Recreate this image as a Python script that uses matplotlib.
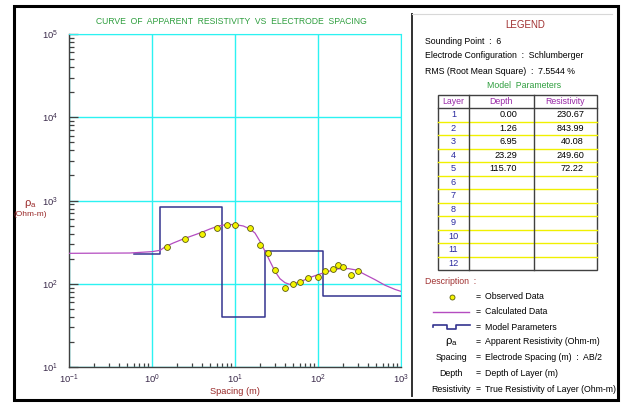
import math
import matplotlib
matplotlib.use("Agg")
import matplotlib.pyplot as plt
from matplotlib.ticker import LogLocator, FuncFormatter, NullFormatter

plt.rcParams['font.family'] = ['Liberation Sans', 'DejaVu Sans']
plt.rcParams['mathtext.fontset'] = 'custom'
plt.rcParams['mathtext.rm'] = 'Liberation Sans'
plt.rcParams['mathtext.it'] = 'Liberation Sans'

# observed sounding data (AB/2 in m, apparent resistivity in ohm-m)
obs_spacing = [1.5, 2.5, 4, 6, 8, 10, 15, 20, 25, 30, 40, 50, 60, 75, 100,
               120, 150, 175, 200, 250, 300]
obs_rho = [280, 348, 400, 468, 510, 510, 468, 295, 232, 148, 88, 100, 106,
           116, 121, 141, 151, 170, 160, 127, 144]

# calculated (model response) curve
calc_spacing = [0.1, 0.54, 1.0, 1.25, 1.46, 1.81, 2.38, 3.14, 3.96, 4.99,
                6.3, 7.94, 10, 12.6, 15.1, 17.4, 20, 23, 26.4, 30.3, 34.8,
                40, 46, 52.8, 63.5, 76.4, 101, 133, 176, 232, 292, 368, 486,
                641, 847, 1000]
calc_rho = [232, 234, 243, 252, 280, 309, 345, 381, 414, 455, 494, 514, 514,
            494, 455, 407, 323, 245, 186, 141, 115, 103, 98, 101, 107, 117,
            129, 141, 151, 152, 146, 129, 112, 96, 85.5, 81]

# layered model
layers = [1, 2, 3, 4, 5, 6, 7, 8, 9, 10, 11, 12]
depths = [0.00, 1.26, 6.95, 23.29, 115.70]
resistivities = [230.67, 843.99, 40.08, 249.60, 72.22]
model_start = 0.6
model_end = 1000

W, H = 622, 403
FS = 6.3
fig = plt.figure(figsize=(W / 100, H / 100), dpi=100)

# pixel-space overlay for frame and legend panel
ov = fig.add_axes([0, 0, 1, 1])
ov.set_xlim(0, W)
ov.set_ylim(H, 0)
ov.axis('off')

ov.add_patch(plt.Rectangle((14, 6), 604, 394, fill=False, lw=2.2,
                           edgecolor='black'))
ov.plot([412, 412], [14, 396], color='#303030', lw=1.4)
ov.plot([412, 612], [14, 14], color='#d8d8d8', lw=0.8)

# main chart
ax = fig.add_axes([69 / W, 36 / H, 332 / W, 333 / H])
ax.set_xscale('log')
ax.set_yscale('log')
ax.set_xlim(0.1, 1000)
ax.set_ylim(10, 1e5)

# model as a stepped line
step_x = [model_start]
step_y = [resistivities[0]]
for i in range(1, len(depths)):
    step_x += [depths[i], depths[i]]
    step_y += [resistivities[i - 1], resistivities[i]]
step_x.append(model_end)
step_y.append(resistivities[-1])
ax.plot(step_x, step_y, color='#34348f', lw=1.1, zorder=3)

ax.plot(calc_spacing, calc_rho, color='#b44cc0', lw=0.9, zorder=4)
ax.plot(obs_spacing, obs_rho, 'o', color='#f4f400', mec='#5a5a10',
        mew=0.6, ms=4.2, zorder=5)

ax.grid(True, which='major', color='#2cf2f2', lw=1.0)
ax.set_axisbelow(True)
for side in ['top', 'right']:
    ax.spines[side].set_color('#2cf2f2')
for side in ['left', 'bottom']:
    ax.spines[side].set_color('#404040')
    ax.spines[side].set_linewidth(1.0)

dec = FuncFormatter(lambda v, p: r'$\mathregular{10^{%d}}$' % round(math.log10(v)))
ax.xaxis.set_major_locator(LogLocator(base=10, numticks=10))
ax.yaxis.set_major_locator(LogLocator(base=10, numticks=10))
ax.xaxis.set_minor_locator(LogLocator(base=10, subs=range(2, 10), numticks=20))
ax.yaxis.set_minor_locator(LogLocator(base=10, subs=range(2, 10), numticks=20))
ax.xaxis.set_major_formatter(dec)
ax.yaxis.set_major_formatter(dec)
ax.xaxis.set_minor_formatter(NullFormatter())
ax.yaxis.set_minor_formatter(NullFormatter())
ax.tick_params(which='both', direction='in', color='#404040', width=0.9,
               labelsize=6.8, labelcolor='#3a2a4a')
ax.tick_params(axis='y', which='major', length=6.5, pad=8)
ax.tick_params(axis='y', which='minor', length=3.4)
ax.tick_params(axis='x', which='major', length=0, pad=4)
ax.tick_params(axis='x', which='minor', length=3.2)
ax.tick_params(top=False, right=False)

ax.set_xlabel('Spacing (m)', fontsize=FS + 0.4, color='#9a2a2a', labelpad=1)
ov.text(30, 204, r'$\mathregular{\rho_a}$', fontsize=8, color='#9a2a2a',
        ha='center', va='center')
ov.text(30, 215, '(Ohm-m)', fontsize=FS - 0.3, color='#9a2a2a', ha='center',
        va='center')
ov.text(231, 22, 'CURVE  OF  APPARENT  RESISTIVITY  VS  ELECTRODE  SPACING',
        fontsize=6.2, color='#2e9e3e', ha='center', va='center')

# legend panel
ov.text(525, 25, 'LEGEND', fontsize=7, color='#a03030', ha='center',
        va='center')
ov.text(425, 41, 'Sounding Point  :  6', fontsize=FS, va='center')
ov.text(425, 56, 'Electrode Configuration  :  Schlumberger', fontsize=FS,
        va='center')
ov.text(425, 71, 'RMS (Root Mean Square)  :  7.5544 %', fontsize=FS,
        va='center')
ov.text(524, 86, 'Model  Parameters', fontsize=FS, color='#2e9e3e',
        ha='center', va='center')

tl, c1, c2, tr = 438, 469, 533.5, 597
ttop, hbot = 94.5, 108
row_h = 13.5
tbot = hbot + row_h * len(layers)
for i in range(1, len(layers)):
    yy = hbot + i * row_h
    ov.plot([tl, tr], [yy, yy], color='#f0f000', lw=1.0)
ov.add_patch(plt.Rectangle((tl, ttop), tr - tl, tbot - ttop, fill=False,
                           edgecolor='#404040', lw=1.0))
ov.plot([tl, tr], [hbot, hbot], color='#404040', lw=1.0)
for xx in [c1, c2]:
    ov.plot([xx, xx], [ttop, tbot], color='#404040', lw=1.0)

hy = (ttop + hbot) / 2
ov.text((tl + c1) / 2, hy, 'Layer', fontsize=FS, color='#9a2aa8',
        ha='center', va='center')
ov.text((c1 + c2) / 2, hy, 'Depth', fontsize=FS, color='#9a2aa8',
        ha='center', va='center')
ov.text((c2 + tr) / 2, hy, 'Resistivity', fontsize=FS, color='#9a2aa8',
        ha='center', va='center')
for i, n in enumerate(layers):
    yy = hbot + (i + 0.5) * row_h
    ov.text((tl + c1) / 2, yy, str(n), fontsize=FS + 0.3, color='#2a2aa0',
            ha='center', va='center')
    if i < len(depths):
        ov.text(517, yy, '%.2f' % depths[i], fontsize=FS + 0.3, ha='right',
                va='center')
        ov.text(584, yy, '%.2f' % resistivities[i], fontsize=FS + 0.3,
                ha='right', va='center')

ov.text(425, 281, 'Description  :', fontsize=FS, color='#a03030',
        va='center')
desc_y = [296.5, 311.5, 327, 342, 357, 373, 389]
desc_text = ['Observed Data', 'Calculated Data', 'Model Parameters',
             'Apparent Resistivity (Ohm-m)',
             'Electrode Spacing (m)  :  AB/2', 'Depth of Layer (m)',
             'True Resistivity of Layer (Ohm-m)']
for yy, t in zip(desc_y, desc_text):
    ov.text(476, yy, '=', fontsize=FS, ha='left', va='center')
    ov.text(485, yy, t, fontsize=FS, ha='left', va='center')

ov.plot([452], [desc_y[0]], 'o', color='#f4f400', mec='#5a5a10', mew=0.6,
        ms=3.6)
ov.plot([433, 469], [desc_y[1], desc_y[1]], color='#b44cc0', lw=1.0)
top_i, bot_i = desc_y[2] - 2, desc_y[2] + 2
ov.plot([433, 433, 446.5, 446.5, 456, 456, 469.5],
        [desc_y[2], top_i, top_i, bot_i, bot_i, top_i, top_i],
        color='#34348f', lw=1.2)
ov.text(451, desc_y[3], r'$\mathregular{\rho_a}$', fontsize=8, ha='center',
        va='center')
ov.text(451, desc_y[4], 'Spacing', fontsize=FS, ha='center', va='center')
ov.text(451, desc_y[5], 'Depth', fontsize=FS, ha='center', va='center')
ov.text(451, desc_y[6], 'Resistivity', fontsize=FS, ha='center', va='center')

fig.savefig('out.png', dpi=100)
